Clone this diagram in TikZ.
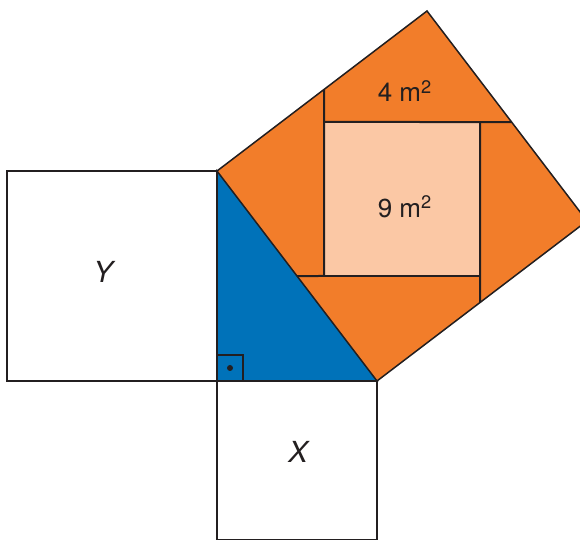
\documentclass[tikz,border=0pt]{standalone}
\usepackage{fontspec}
\setmainfont{TeX Gyre Heros}
\usepackage{tikz}
\usetikzlibrary{calc}
\definecolor{sqorange}{RGB}{242,125,42}
\definecolor{sqpale}{RGB}{251,200,165}
\definecolor{triblue}{RGB}{0,114,185}
\definecolor{ink}{RGB}{35,31,32}
\tikzset{
  edge/.style={draw=ink, line width=0.75pt, line join=miter},
  cut/.style={draw=ink, line width=1pt},
  area/.style={font=\fontsize{13}{15}\selectfont, text=ink},
  sqname/.style={font=\fontsize{14.5}{17}\selectfont\itshape, text=ink},
}

\begin{document}
\begin{tikzpicture}[x=0.5pt, y=-0.5pt]
\useasboundingbox (0,0) rectangle (580,540);
\clip (0,0) rectangle (580,540);
% corners of the right triangle and the square on its hypotenuse
\coordinate (A) at (217,171);
\coordinate (R) at (217,381);
\coordinate (B) at (377,381);
\coordinate (D) at ($(A)+(210,-160)$);
\coordinate (C) at ($(B)+(210,-160)$);
% inner square
\coordinate (q1) at (324,122);
\coordinate (q2) at (480,122);
\coordinate (q3) at (480,276);
\coordinate (q4) at (324,276);
% where the extended sides meet the big square
\coordinate (e1) at (intersection of A--D and q1--q4);
\coordinate (e2) at (intersection of D--C and q1--q2);
\coordinate (e3) at (intersection of C--B and q2--q3);
\coordinate (e4) at (intersection of B--A and q3--q4);
% leg squares
\draw[edge, fill=white] (7,171) rectangle (R);
\draw[edge, fill=white] (R) rectangle (377,540);
% hypotenuse square
\fill[sqorange] (A) -- (D) -- (C) -- (B) -- cycle;
\fill[sqpale] (q1) rectangle (q3);
\draw[cut] (e1) -- (q4) -- (e4);
\draw[cut] (q4) -- (q3);
\draw[cut] (q1) -- (e2);
\draw[cut] (e3) -- (q2);
\draw[cut] (q1) -- (q2) -- (q3);
\draw[edge] (A) -- (D) -- (C) -- (B);
% triangle
\draw[edge, fill=triblue] (A) -- (R) -- (B) -- cycle;
\draw[edge] (217,355) rectangle (243,381);
\fill[ink] (230,368) circle (3);
% labels
\node[area] (small) at (405,91) {4 m\textsuperscript{2}};
\node[area] (big) at (405,207) {9 m\textsuperscript{2}};
\node[sqname] (Ylbl) at (103,272) {Y};
\node[sqname] (Xlbl) at (298,452) {X};
\end{tikzpicture}
\end{document}
